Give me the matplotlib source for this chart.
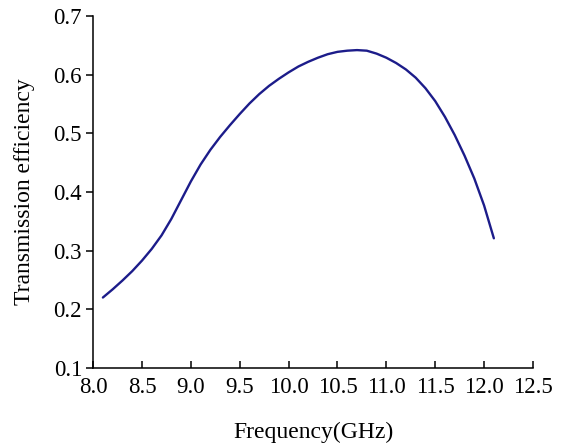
import matplotlib
matplotlib.use("Agg")
import matplotlib.pyplot as plt

# values
freq = [8.1, 8.2, 8.3, 8.4, 8.5, 8.6, 8.7, 8.8, 8.9, 9.0,
        9.1, 9.2, 9.3, 9.4, 9.5, 9.6, 9.7, 9.8, 9.9, 10.0,
        10.1, 10.2, 10.3, 10.4, 10.5, 10.6, 10.7, 10.8, 10.9, 11.0,
        11.1, 11.2, 11.3, 11.4, 11.5, 11.6, 11.7, 11.8, 11.9, 12.0,
        12.1]
efficiency = [0.220, 0.234, 0.249, 0.265, 0.283, 0.303, 0.326, 0.354, 0.386, 0.418,
              0.447, 0.472, 0.494, 0.514, 0.533, 0.551, 0.567, 0.581, 0.593, 0.604,
              0.614, 0.622, 0.629, 0.635, 0.639, 0.641, 0.642, 0.641, 0.636, 0.629,
              0.620, 0.609, 0.595, 0.577, 0.555, 0.528, 0.497, 0.462, 0.423, 0.377,
              0.321]

x_ticks = [8.0, 8.5, 9.0, 9.5, 10.0, 10.5, 11.0, 11.5, 12.0, 12.5]
y_ticks = [0.1, 0.2, 0.3, 0.4, 0.5, 0.6, 0.7]

plt.rcParams['font.family'] = ['Liberation Serif', 'DejaVu Serif']

fig = plt.figure(figsize=(5.61, 4.47), dpi=100)
ax = fig.add_axes([0.166, 0.177, 0.784, 0.787])

ax.plot(freq, efficiency, color='#1c1c8a', linewidth=1.7,
        solid_joinstyle='round', solid_capstyle='round')

ax.set_xlim(8.0, 12.5)
ax.set_ylim(0.1, 0.7)
ax.set_xticks(x_ticks)
ax.set_xticklabels([f'{v:.1f}' for v in x_ticks])
ax.set_yticks(y_ticks)
ax.set_yticklabels([f'{v:.1f}' for v in y_ticks])

for side in ['top', 'right']:
    ax.spines[side].set_visible(False)
for side in ['left', 'bottom']:
    ax.spines[side].set_linewidth(1.1)

ax.tick_params(axis='x', direction='in', length=5, width=1.1, labelsize=16.5, pad=6.5)
ax.tick_params(axis='y', direction='out', length=5, width=1.1, labelsize=16.5, pad=3)

ax.set_xlabel('Frequency(GHz)', fontsize=17, labelpad=17)
ax.set_ylabel('Transmission efficiency', fontsize=17, labelpad=13.5)

fig.savefig('out.png', dpi=100)
